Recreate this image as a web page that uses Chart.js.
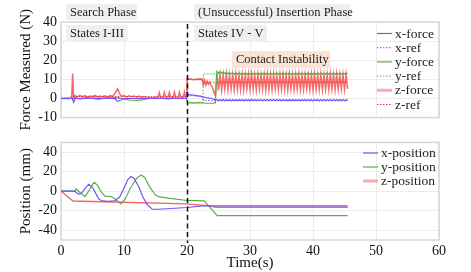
<!DOCTYPE html>
<html>
<head>
<meta charset="utf-8">
<script src="https://cdn.jsdelivr.net/npm/chart.js@4.4.1/dist/chart.umd.min.js"></script>
<style>
  html, body { margin: 0; padding: 0; background: #fff; }
  #wrap { position: relative; width: 471px; height: 272px; }
  canvas { position: absolute; left: 0; }
  #forceChart { top: 0; }
  #posChart { top: 130px; }
</style>
</head>
<body>
<div id="wrap">
  <canvas id="forceChart" width="471" height="130"></canvas>
  <canvas id="posChart" width="471" height="142"></canvas>
</div>
<script>
// ---------- data ----------
const timeTicks = [0, 10, 20, 30, 40, 50, 60];
const forceTicks = [-10, 0, 10, 20, 30, 40];
const posTicks = [-40, -20, 0, 20, 40];
const phaseTime = 20; // start of the insertion phase

// [time, force] before the contact instability
const xForceEarly = [[0,0],[1.8,0],[2.0,-2],[2.3,0.3],[2.6,0],[5,0.2],[8.5,0],[9.0,-1.5],[9.5,-0.8],[10,0],[15,0],[19.9,0],
  [20.0,2.5],[20.2,2],[21,1.8],[22,1.2],[22.5,0.8],[23,0.5],[23.5,0.2],[24,0],[24.5,-0.8]];
const xRefPts = [[0,0],[19.9,0],[20.0,1.5],[22.5,1.2],[22.6,-1],[45.5,-1]];
const yForceEarly = [[0,0],[1.8,0],[2.2,0.5],[3,-0.3],[4,0.4],[5,0],[6,-0.5],[7,0.3],[8,0.5],[9,0.6],[10,-0.3],[11,-0.8],
  [12,-1],[13,-0.6],[14,0],[15,0.3],[16,0],[17,-0.2],[18,0.2],[19,0],[19.9,0],[20.1,-2.2],[21,-2.4],[22,-2.2],[22.5,-2.3],
  [23,-2.5],[24,-2.4],[24.5,-2.3]];
const yRefPts = [[0,0],[19.9,0],[20.0,-2],[22.5,-2],[22.6,12.8],[45.5,12.8]];
const zForceEarly = [[0,0],[1.7,0],[1.85,13],[2.0,0.5],[2.2,1.5],[2.6,0.8],[3.0,1.6],[3.4,0.9],[3.8,1.5],[4.2,0.7],
  [4.6,1.3],[5.0,1.0],[5.4,1.6],[5.8,0.8],[6.2,1.2],[6.6,0.9],[7.0,1.4],[7.4,0.8],[7.8,1.5],[8.2,1.2],[8.6,2.8],
  [9.0,5.0],[9.3,2.5],[9.6,1.2],[10.0,1.5],[10.4,0.8],[10.8,1.4],[11.2,0.9],[11.6,1.3],[12.0,0.7],[12.4,1.2],[12.8,0.6],
  [13.2,1.0],[13.6,0.5],[14.0,0.5],[14.5,0.4],[15.0,0.6],[15.4,0.6],[15.6,3.0],[15.8,0.6],[16.2,0.6],[16.4,3.2],[16.6,0.6],
  [17.0,0.7],[17.2,3.1],[17.4,0.6],[17.8,0.6],[18.0,3.3],[18.2,0.7],[18.6,0.6],[18.8,3.2],[19.0,0.6],[19.4,0.7],[19.6,3.4],
  [19.8,0.7],[20.0,0.8],[20.05,10.5],[20.5,10.2],[21.0,9.8],[21.5,10.0],[22.0,10.1],[22.4,10.0],[22.6,7.0],[22.8,9.5],
  [23.0,7.0],[23.2,9.0],[23.4,7.5],[23.6,8.5],[23.8,7.0],[24.0,6.0],[24.3,3.0],[24.5,1.5]];
const zRefPts = [[0,0],[2,1],[19.9,1],[20.0,10],[22.5,10],[22.6,8.5],[45.5,8.5]];

// sample times during the contact instability
const tOsc = [24.75, 25, 25.25, 25.5, 25.75, 26, 26.25, 26.5, 26.75, 27, 27.25, 27.5, 27.75, 28, 28.25, 28.5,
  28.75, 29, 29.25, 29.5, 29.75, 30, 30.25, 30.5, 30.75, 31, 31.25, 31.5, 31.75, 32, 32.25, 32.5, 32.75, 33,
  33.25, 33.5, 33.75, 34, 34.25, 34.5, 34.75, 35, 35.25, 35.5, 35.75, 36, 36.25, 36.5, 36.75, 37, 37.25, 37.5,
  37.75, 38, 38.25, 38.5, 38.75, 39, 39.25, 39.5, 39.75, 40, 40.25, 40.5, 40.75, 41, 41.25, 41.5, 41.75, 42,
  42.25, 42.5, 42.75, 43, 43.25, 43.5, 43.75, 44, 44.25, 44.5, 44.75, 45, 45.25, 45.5];
const xForceOsc = [-0.5, -1.3, -0.6, -1.2, -0.5, -1.3, -0.6, -1.2, -0.5, -1.3, -0.6, -1.2, -0.5, -1.3, -0.6, -1.2,
  -0.5, -1.3, -0.6, -1.2, -0.5, -1.3, -0.6, -1.2, -0.5, -1.3, -0.6, -1.2, -0.5, -1.3, -0.6, -1.2, -0.5, -1.3,
  -0.6, -1.2, -0.5, -1.3, -0.6, -1.2, -0.5, -1.3, -0.6, -1.2, -0.5, -1.3, -0.6, -1.2, -0.5, -1.3, -0.6, -1.2,
  -0.5, -1.3, -0.6, -1.2, -0.5, -1.3, -0.6, -1.2, -0.5, -1.3, -0.6, -1.2, -0.5, -1.3, -0.6, -1.2, -0.5, -1.3,
  -0.6, -1.2, -0.5, -1.3, -0.6, -1.2, -0.5, -1.3, -0.6, -1.2, -0.5, -1.3, -0.6, -1.0];
const yForceOsc = [14.2, 13.2, 14.0, 13.3, 13.8, 13.1, 13.6, 13.0, 13.5, 12.9, 13.4, 12.8, 13.3, 12.8, 13.3, 12.7,
  13.2, 12.8, 13.3, 12.7, 13.2, 12.8, 13.3, 12.7, 13.2, 12.8, 13.3, 12.7, 13.2, 12.8, 13.3, 12.7, 13.2, 12.8,
  13.3, 12.7, 13.2, 12.8, 13.3, 12.7, 13.2, 12.8, 13.3, 12.7, 13.2, 12.8, 13.3, 12.7, 13.2, 12.8, 13.3, 12.7,
  13.2, 12.8, 13.3, 12.7, 13.2, 12.8, 13.3, 12.7, 13.2, 12.8, 13.3, 12.7, 13.2, 12.8, 13.3, 12.7, 13.2, 12.8,
  13.3, 12.7, 13.2, 12.8, 13.3, 12.7, 13.2, 12.8, 13.3, 12.7, 13.2, 12.8, 13.3, 13.0];
const zForceOsc = [12.8, 4.2, 12.5, 4.6, 12.3, 5.0, 12.6, 4.8, 12.2, 5.1, 12.4, 4.7, 12.6, 5.0, 12.3, 4.9,
  12.5, 4.6, 12.2, 5.2, 12.4, 4.8, 12.6, 5.0, 12.3, 4.7, 12.5, 5.1, 12.2, 4.9, 12.4, 4.6, 12.6, 5.0, 12.3, 4.8,
  12.5, 5.2, 12.2, 4.7, 12.4, 4.9, 12.6, 5.0, 12.3, 4.6, 12.5, 5.1, 12.2, 4.8, 12.4, 5.0, 12.6, 4.7, 12.3, 4.9,
  12.5, 5.2, 12.2, 4.8, 12.4, 4.6, 12.6, 5.0, 12.3, 4.9, 12.5, 4.7, 12.2, 5.1, 12.4, 4.8, 12.6, 5.0, 12.3, 4.6,
  12.5, 4.9, 12.2, 5.1, 12.4, 4.8, 12.5, 5.0];

// [time, position mm]
const xPosPts = [[0,0],[2.2,0],[2.5,-2],[2.9,-3],[3.3,-2],[3.8,3],[4.4,7],[5.0,4],[5.5,-2],[6.0,-8],[6.5,-10],
  [7.5,-10.5],[8.5,-10],[9.3,-6],[10,3],[10.6,12],[11.1,15],[11.6,13],[12.3,5],[13,-6],[13.7,-14],[14.5,-18.5],
  [15.5,-18.5],[20,-16.7],[22.5,-15],[45.5,-15]];
const yPosPts = [[0,0],[2.2,0],[2.4,2.5],[2.8,0],[3.3,-3],[3.8,-5.5],[4.4,0],[5.0,7],[5.3,9],[5.8,6],[6.4,-1],
  [7.0,-5],[8.0,-5.5],[8.6,-8],[9.5,-13],[10.2,-8],[11,3],[12,13],[12.7,16.5],[13.3,14],[14,5],[15,-4],[15.5,-5.5],
  [17,-7],[20,-9.5],[22.7,-10],[23.7,-17],[24.8,-25],[45.5,-25]];
const zPosPts = [[0,0],[1.9,-10],[20,-13],[23.5,-15],[24.6,-16.5],[45.5,-16.5]];

const phaseLabels = ["Search Phase", "(Unsuccessful) Insertion Phase"];
const stateLabels = ["States I-III", "States IV - V"];
const noteLabel = "Contact Instability";

// ---------- helpers ----------
const BLUE = "rgb(118, 82, 255)";
const GREEN = "rgb(86, 176, 74)";
const RED = "rgb(240, 50, 50)";
const ZRED = "rgba(242, 45, 45, 0.7)";
const SERIF = "'Liberation Serif', 'DejaVu Serif', serif";

function pts(list) {
  return list.map(([x, y]) => ({ x, y }));
}
function withOsc(early, vals) {
  return pts(early).concat(tOsc.map((x, i) => ({ x, y: vals[i] })));
}
function serie(label, data, color, width, dash, legendStyle) {
  return {
    label, data,
    borderColor: color, backgroundColor: color,
    borderWidth: width, borderDash: dash || [],
    pointRadius: 0, tension: 0, fill: false,
    legendStyle: legendStyle || { color, width },
  };
}

// gray frame around the plot area
const framePlugin = {
  id: "frame",
  beforeDatasetsDraw(chart) {
    const { ctx, chartArea: a } = chart;
    ctx.save();
    ctx.strokeStyle = "#d6d6d6";
    ctx.lineWidth = 1.5;
    ctx.strokeRect(a.left, a.top, a.right - a.left, a.bottom - a.top);
    ctx.restore();
  },
};

// dashed line at the phase change
const phaseLinePlugin = {
  id: "phaseLine",
  afterDatasetsDraw(chart, args, opts) {
    const { ctx } = chart;
    const x = Math.round(chart.scales.x.getPixelForValue(phaseTime)) + 0.5;
    ctx.save();
    ctx.strokeStyle = "#111";
    ctx.lineWidth = 1.5;
    ctx.setLineDash([5, 3.5]);
    ctx.beginPath();
    ctx.moveTo(x, opts.from);
    ctx.lineTo(x, opts.to);
    ctx.stroke();
    ctx.restore();
  },
};

// legend drawn inside the plot area
const innerLegendPlugin = {
  id: "innerLegend",
  afterDraw(chart, args, opts) {
    const { ctx } = chart;
    ctx.save();
    ctx.font = "13.5px " + SERIF;
    ctx.textBaseline = "middle";
    chart.data.datasets.forEach((ds, i) => {
      const y = opts.top + i * opts.step;
      ctx.strokeStyle = ds.legendStyle.color;
      ctx.lineWidth = ds.legendStyle.width;
      ctx.setLineDash(ds.borderDash.length ? [1.5, 1.5] : []);
      ctx.beginPath();
      ctx.moveTo(opts.x, y);
      ctx.lineTo(opts.x + opts.len, y);
      ctx.stroke();
      ctx.setLineDash([]);
      ctx.fillStyle = "#222";
      ctx.fillText(ds.label, opts.x + opts.len + 3, y + 0.5);
    });
    ctx.restore();
  },
};

// shaded text boxes
function drawBox(ctx, text, x, y, w, h, fill) {
  ctx.fillStyle = fill;
  ctx.fillRect(x, y, w, h);
  ctx.fillStyle = "#222";
  ctx.fillText(text, x + 4, y + h / 2 + 0.5);
}
const boxesPlugin = {
  id: "boxes",
  afterDraw(chart) {
    const { ctx } = chart;
    ctx.save();
    ctx.font = "12.5px " + SERIF;
    ctx.textBaseline = "middle";
    drawBox(ctx, phaseLabels[0], 66, 4, 71, 16, "#efefef");
    drawBox(ctx, phaseLabels[1], 194, 4, 157, 16, "#efefef");
    drawBox(ctx, stateLabels[0], 66, 25, 62, 17, "#efefef");
    drawBox(ctx, stateLabels[1], 194, 25, 73, 17, "#efefef");
    drawBox(ctx, noteLabel, 232, 51, 98, 17, "#fbe3d6");
    ctx.restore();
  },
};

const tickFont = { family: SERIF, size: 14 };
const gridStyle = { color: "#ececec", lineWidth: 1, drawTicks: false };

function xScale(showLabels) {
  return {
    type: "linear", min: 0, max: 60,
    afterBuildTicks: (s) => { s.ticks = timeTicks.map((v) => ({ value: v })); },
    ticks: { display: showLabels, color: "#111", font: tickFont, padding: 3, maxRotation: 0 },
    grid: gridStyle,
    border: { display: false },
    title: showLabels
      ? { display: true, text: "Time(s)", color: "#111", font: { family: SERIF, size: 15, lineHeight: 1 }, padding: { top: 2, bottom: 1 } }
      : { display: false },
    afterFit: (s) => { s.height = showLabels ? 32 : 9; },
  };
}
function yScale(min, max, ticks, title) {
  return {
    min, max,
    afterBuildTicks: (s) => { s.ticks = ticks.map((v) => ({ value: v })); },
    ticks: { color: "#111", font: tickFont, padding: 4 },
    grid: gridStyle,
    border: { display: false },
    title: { display: true, text: title, color: "#111", font: { family: SERIF, size: 15, lineHeight: 1.2 }, padding: { top: 17, bottom: 0 } },
    afterFit: (s) => { s.width = 61; },
  };
}

// ---------- force chart ----------
const zLegend = { color: "rgba(245, 90, 90, 0.5)", width: 3 };
new Chart(document.getElementById("forceChart"), {
  type: "line",
  data: {
    datasets: [
      serie("x-force", withOsc(xForceEarly, xForceOsc), BLUE, 1.2),
      serie("x-ref", pts(xRefPts), BLUE, 1, [1.5, 1.5]),
      serie("y-force", withOsc(yForceEarly, yForceOsc), GREEN, 1.2),
      serie("y-ref", pts(yRefPts), GREEN, 1, [1.5, 1.5]),
      serie("z-force", withOsc(zForceEarly, zForceOsc), ZRED, 1.6, null, zLegend),
      serie("z-ref", pts(zRefPts), RED, 1, [1.5, 1.5]),
    ],
  },
  options: {
    responsive: false,
    animation: false,
    devicePixelRatio: 1,
    layout: { padding: { left: 0, right: 32, top: 22, bottom: 0 } },
    plugins: {
      legend: { display: false },
      tooltip: { enabled: false },
      phaseLine: { from: 24, to: 130 },
      innerLegend: { x: 377, len: 15, top: 33.5, step: 14.2 },
    },
    scales: {
      x: xScale(false),
      y: yScale(-10, 40, forceTicks, "Force Measured (N)"),
    },
  },
  plugins: [framePlugin, phaseLinePlugin, innerLegendPlugin, boxesPlugin],
});

// ---------- position chart ----------
new Chart(document.getElementById("posChart"), {
  type: "line",
  data: {
    datasets: [
      serie("x-position", pts(xPosPts), BLUE, 1.2),
      serie("y-position", pts(yPosPts), GREEN, 1.2),
      serie("z-position", pts(zPosPts), "rgba(242, 60, 60, 0.8)", 1.4, null, zLegend),
    ],
  },
  options: {
    responsive: false,
    animation: false,
    devicePixelRatio: 1,
    layout: { padding: { left: 0, right: 32, top: 11, bottom: 0 } },
    plugins: {
      legend: { display: false },
      tooltip: { enabled: false },
      phaseLine: { from: 0, to: 113 },
      innerLegend: { x: 363, len: 15, top: 23, step: 14 },
    },
    scales: {
      x: xScale(true),
      y: yScale(-50, 50, posTicks, "Position (mm)"),
    },
  },
  plugins: [framePlugin, phaseLinePlugin, innerLegendPlugin],
});
</script>
</body>
</html>
